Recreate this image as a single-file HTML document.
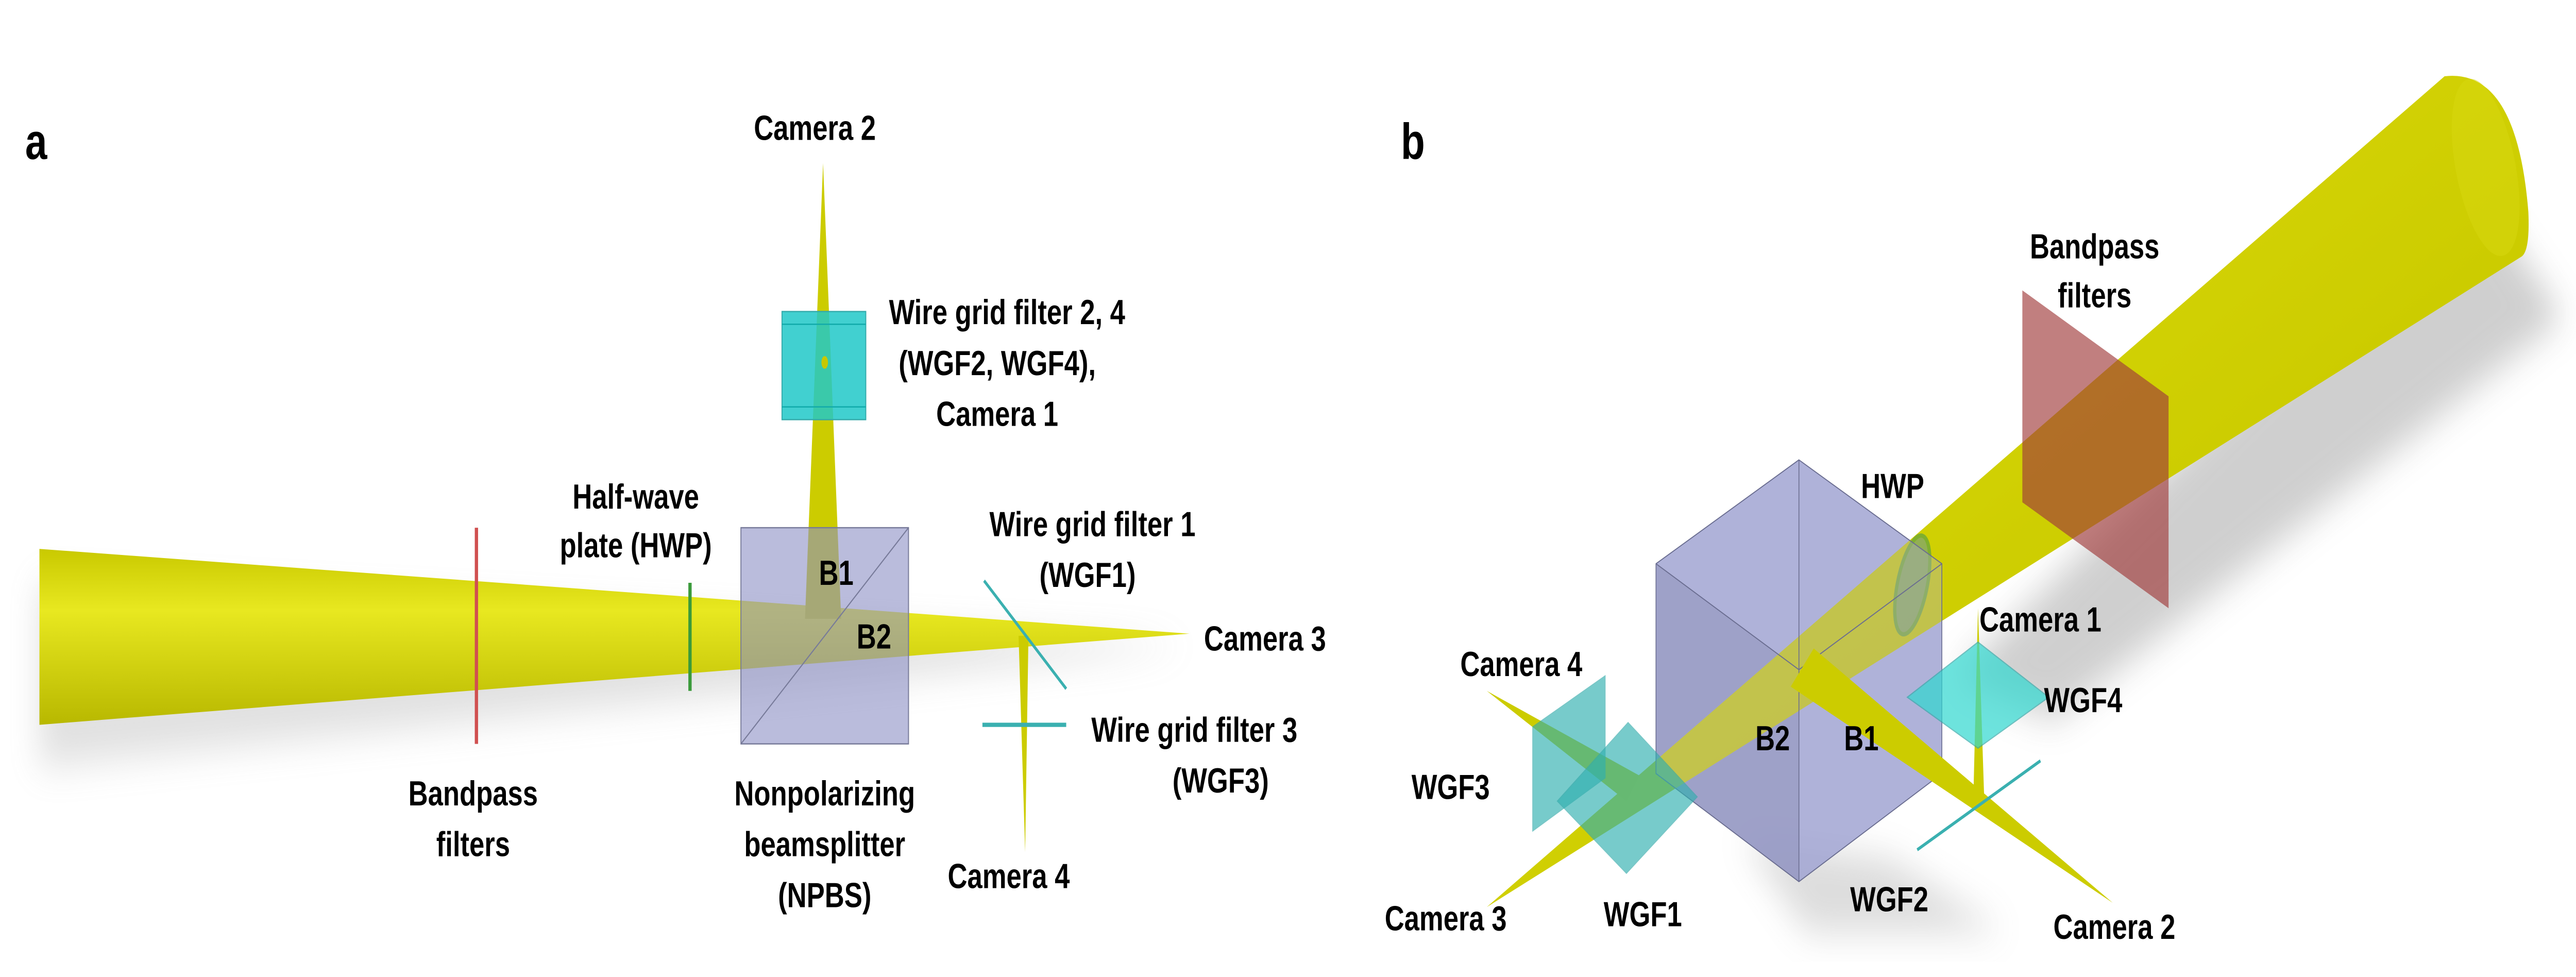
<!DOCTYPE html>
<html><head><meta charset="utf-8"><style>
html,body{margin:0;padding:0;background:#fff;width:100%;height:100%;overflow:hidden;}
svg{display:block;position:fixed;left:0;top:0;width:100vw;height:100vh;}
text{font-family:"Liberation Sans",sans-serif;font-weight:bold;fill:#000;text-anchor:middle;}
</style></head><body>
<svg viewBox="0 0 1568 461" preserveAspectRatio="none" xmlns="http://www.w3.org/2000/svg">
<defs>
<linearGradient id="ya" x1="0" y1="0" x2="0" y2="1">
<stop offset="0" stop-color="#c9c900"/><stop offset="0.35" stop-color="#e8e820"/><stop offset="1" stop-color="#b8b800"/>
</linearGradient>
<linearGradient id="yb" x1="0" y1="0" x2="1" y2="1">
<stop offset="0" stop-color="#e2e010"/><stop offset="0.6" stop-color="#cccc00"/><stop offset="1" stop-color="#b0b000"/>
</linearGradient>
<filter id="bl" x="-30%" y="-30%" width="160%" height="160%"><feGaussianBlur stdDeviation="9"/></filter>
</defs>
<rect width="1568" height="461" fill="#fff"/>
<!-- Panel a -->
<text x="22" y="75" font-size="24" text-anchor="start">a</text>
<polygon points="24,275 724,305 24,362" fill="#888" opacity="0.25" filter="url(#bl)"/>
<polygon points="24,259 724,299 24,342" fill="url(#ya)"/>
<polygon points="501,77 490,292 512,292" fill="#cccc00"/>
<rect x="476" y="147" width="51" height="51" fill="#20c8c8" opacity="0.85"/>
<rect x="476" y="147" width="51" height="51" fill="none" stroke="#3aa" stroke-width="0.6"/>
<line x1="476" y1="153" x2="527" y2="153" stroke="#1aa" stroke-width="0.6"/>
<line x1="476" y1="192" x2="527" y2="192" stroke="#1aa" stroke-width="0.6"/>
<ellipse cx="502" cy="171" rx="2" ry="3" fill="#c8c800"/>
<rect x="451" y="249" width="102" height="102" fill="#8c90c4" opacity="0.6"/>
<line x1="451" y1="351" x2="553" y2="249" stroke="#777a99" stroke-width="0.6"/>
<rect x="451" y="249" width="102" height="102" fill="none" stroke="#777a99" stroke-width="0.6"/>
<line x1="290" y1="249" x2="290" y2="351" stroke="#d05050" stroke-width="2"/>
<line x1="420" y1="275" x2="420" y2="326" stroke="#3a9a3a" stroke-width="2"/>
<polygon points="620,300 626,300 624,402" fill="#cccc00"/>
<line x1="599" y1="274" x2="649" y2="325" stroke="#3ab0b0" stroke-width="1.5"/>
<line x1="598" y1="342" x2="649" y2="342" stroke="#3ab0b0" stroke-width="2"/>
<g font-size="16.5">
<text x="496" y="66">Camera 2</text>
<text x="613" y="153">Wire grid filter 2, 4</text>
<text x="607" y="177">(WGF2, WGF4),</text>
<text x="607" y="201">Camera 1</text>
<text x="387" y="240">Half-wave</text>
<text x="387" y="263">plate (HWP)</text>
<text x="509" y="276">B1</text>
<text x="532" y="306">B2</text>
<text x="665" y="253">Wire grid filter 1</text>
<text x="662" y="277">(WGF1)</text>
<text x="770" y="307">Camera 3</text>
<text x="727" y="350">Wire grid filter 3</text>
<text x="743" y="374">(WGF3)</text>
<text x="288" y="380">Bandpass</text>
<text x="288" y="404">filters</text>
<text x="502" y="380">Nonpolarizing</text>
<text x="502" y="404">beamsplitter</text>
<text x="502" y="428">(NPBS)</text>
<text x="614" y="419">Camera 4</text>
</g>

<!-- Panel b -->
<text x="860" y="75" font-size="24">b</text>
<polygon points="1500,80 1560,150 1250,340 1190,320" fill="#777" opacity="0.35" filter="url(#bl)"/>
<polygon points="1060,395 1150,405 1220,440 1100,440" fill="#777" opacity="0.25" filter="url(#bl)"/>
<polygon points="1095,217 1182,266 1182,365 1095,416 1008,365 1008,266" fill="#9a9ecf" opacity="0.75"/>
<polygon points="1008,266 1095,316 1095,416 1008,365" fill="#7e80a8" opacity="0.5"/>
<path d="M1488,36 Q1532,32 1539,100 Q1540,118 1535,121 L905,428 Z" fill="url(#yb)"/>
<ellipse cx="1513" cy="79" rx="18" ry="43" transform="rotate(-15 1513 79)" fill="#d8d810" opacity="0.5"/>
<polygon points="1231,137 1320,187 1320,287 1231,237" fill="#a03a3a" opacity="0.65"/>
<ellipse cx="1164" cy="276" rx="9" ry="24" transform="rotate(15 1164 276)" fill="#6a9a8a" opacity="0.6" stroke="#4a9a4a" stroke-width="2"/>
<polygon points="1095,217 1182,266 1182,365 1095,416 1008,365 1008,266" fill="#a8acd8" opacity="0.35"/>
<g stroke="#6a6d90" stroke-width="0.5" fill="none">
<polygon points="1095,217 1182,266 1182,365 1095,416 1008,365 1008,266"/>
<line x1="1008" y1="266" x2="1095" y2="316"/><line x1="1182" y1="266" x2="1095" y2="316"/><line x1="1095" y1="217" x2="1095" y2="416"/>
</g>
<polygon points="1090,324 1104,306 1286,426" fill="#cccc00"/>
<polygon points="1204,287 1201,382 1208,382" fill="#cccc00"/>
<polygon points="905,326 998,366 990,378" fill="#cccc00"/>
<polygon points="1161,329 1204,303 1247,329 1204,353" fill="#30d8d0" opacity="0.7" stroke="#3aa" stroke-width="0.6"/>
<line x1="1167" y1="401" x2="1242" y2="359" stroke="#3ab0b0" stroke-width="1.5"/>
<polygon points="933,343 977,319 977,367 933,392" fill="#30b0b0" opacity="0.65" stroke="#3aa" stroke-width="0.6"/>
<polygon points="948,378 991,341 1033,376 990,412" fill="#30b0b0" opacity="0.65" stroke="#3aa" stroke-width="0.6"/>
<g font-size="16.5">
<text x="1152" y="235">HWP</text>
<text x="1275" y="122">Bandpass</text>
<text x="1275" y="145">filters</text>
<text x="1242" y="298">Camera 1</text>
<text x="1268" y="336">WGF4</text>
<text x="926" y="319">Camera 4</text>
<text x="883" y="377">WGF3</text>
<text x="1079" y="354">B2</text>
<text x="1133" y="354">B1</text>
<text x="880" y="439">Camera 3</text>
<text x="1000" y="437">WGF1</text>
<text x="1150" y="430">WGF2</text>
<text x="1287" y="443">Camera 2</text>
</g>
</svg>
</body></html>
